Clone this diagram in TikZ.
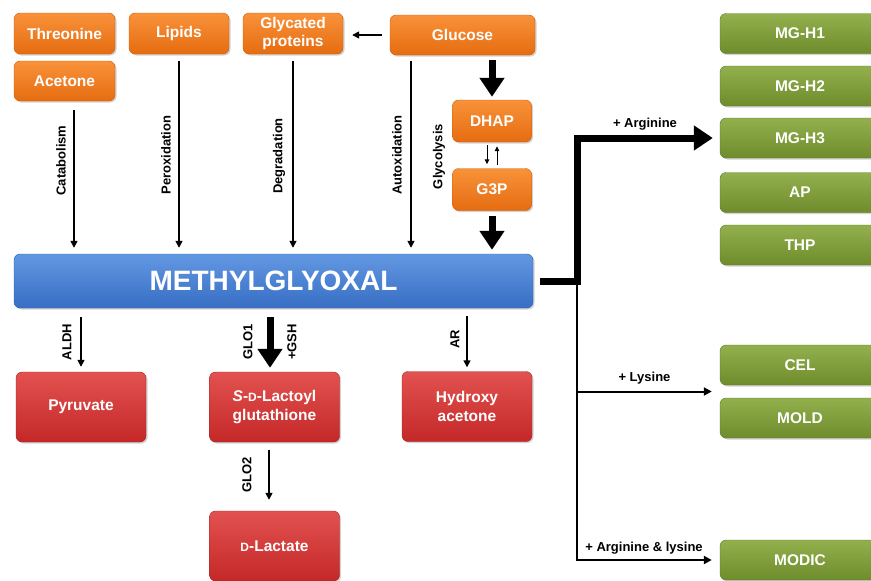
\documentclass[tikz,border=0pt]{standalone}
\usepackage{fontspec}
\setmainfont{Liberation Sans}
\usetikzlibrary{arrows.meta,calc,shadows}
\definecolor{orgT}{RGB}{248,146,58}
\definecolor{orgB}{RGB}{230,108,16}
\definecolor{orgD}{RGB}{205,92,10}
\definecolor{bluT}{RGB}{98,152,226}
\definecolor{bluB}{RGB}{56,110,196}
\definecolor{bluD}{RGB}{48,94,170}
\definecolor{redT}{RGB}{226,82,80}
\definecolor{redB}{RGB}{196,40,40}
\definecolor{redD}{RGB}{168,34,34}
\definecolor{grnT}{RGB}{146,176,76}
\definecolor{grnB}{RGB}{110,140,44}
\definecolor{grnD}{RGB}{94,120,38}

\begin{document}
\begin{tikzpicture}[x=1pt,y=-1pt,
  box/.style={rounded corners=6pt,text=white,align=center,inner sep=0pt,
    font=\fontsize{15.5}{18}\selectfont\bfseries,
    drop shadow={shadow xshift=1.5pt,shadow yshift=-1.5pt,opacity=.35}},
  org/.style={box,draw=orgD,top color=orgT,bottom color=orgB},
  blu/.style={box,draw=bluD,top color=bluT,bottom color=bluB},
  rd/.style={box,draw=redD,top color=redT,bottom color=redB,
    minimum width=130pt,minimum height=70pt,font=\fontsize{15.5}{19}\selectfont\bfseries},
  grn/.style={box,draw=grnD,top color=grnT,bottom color=grnB,minimum width=160pt,minimum height=40pt},
  arr/.style={line width=1.5pt,-{Triangle[length=7pt,width=7pt]}},
  tarr/.style={line width=1pt,-{Triangle[length=5pt,width=4.5pt]}},
  rarr/.style={line width=2pt,-{Triangle[length=8pt,width=8pt]}},
  fat/.style={line width=7pt,-{Triangle[length=19pt,width=24pt]}},
  lbl/.style={inner sep=0pt,rotate=90,font=\fontsize{13}{15}\selectfont\bfseries},
  hlbl/.style={inner sep=0pt,font=\fontsize{13}{15}\selectfont\bfseries}]
\useasboundingbox (0,0) rectangle (871,581);
\clip (0,0) rectangle (871,581);

\node[org,minimum width=101pt,minimum height=41pt] (thr) at (64.5,33.5) {Threonine};
\node[org,minimum width=101pt,minimum height=40pt] (ace) at (64.5,81) {Acetone};
\node[org,minimum width=100pt,minimum height=41pt] (lip) at (179,33.5) {Lipids};
\node[org,minimum width=100pt,minimum height=41pt] (gly) at (293,33.5) {Glycated\\proteins};
\node[org,minimum width=145pt,minimum height=40pt] (glc) at (462.5,35) {Glucose};
\node[org,minimum width=79pt,minimum height=42pt] (dhap) at (492,121) {DHAP};
\node[org,minimum width=79pt,minimum height=42pt] (g3p) at (492,189.5) {G3P};

\node[blu,minimum width=519pt,minimum height=54pt,font=\fontsize{28}{30}\selectfont\bfseries] (mg) at (273.5,281) {METHYLGLYOXAL};

\node[rd] (pyr) at (81,407) {Pyruvate};
\node[rd] (sdl) at (274.5,407) {\textit{S}-{\fontsize{12}{12}\selectfont D}-Lactoyl\\glutathione};
\node[rd] (hyd) at (467,406.5) {Hydroxy\\acetone};
\node[rd] (dlac) at (274.5,546) {{\fontsize{12}{12}\selectfont D}-Lactate};

\node[grn] (mgh1) at (800,33.5) {MG-H1};
\node[grn] (mgh2) at (800,86) {MG-H2};
\node[grn] (mgh3) at (800,138) {MG-H3};
\node[grn] (ap) at (800,192.5) {AP};
\node[grn] (thp) at (800,245) {THP};
\node[grn] (cel) at (800,365) {CEL};
\node[grn] (mold) at (800,418) {MOLD};
\node[grn] (modic) at (800,560) {MODIC};

\draw[arr,shorten <=9pt,shorten >=6pt] (ace.south -| 74,0) -- (mg.north -| 74,0);
\draw[arr,shorten <=7pt,shorten >=6pt] (lip.south) -- (lip.south |- mg.north);
\draw[arr,shorten <=7pt,shorten >=6pt] (gly.south) -- (gly.south |- mg.north);
\draw[arr,shorten <=6pt,shorten >=6pt] (glc.south -| 411,0) -- (mg.north -| 411,0);
\draw[arr,shorten <=8pt,shorten >=9pt] (glc.west) -- (gly.east |- glc.west);
\draw[fat,shorten <=5pt,shorten >=3pt] (glc.south -| dhap.north) -- (dhap.north);
\draw[tarr,shorten <=3pt,shorten >=4pt] ([xshift=-5pt]dhap.south) -- ([xshift=-5pt]g3p.north);
\draw[tarr,shorten <=3pt,shorten >=4pt] ([xshift=5pt]g3p.north) -- ([xshift=5pt]dhap.south);
\draw[fat,shorten <=5pt,shorten >=4pt] (g3p.south) -- (g3p.south |- mg.north);

\draw[arr,shorten <=9pt,shorten >=5pt] (mg.south -| pyr.north) -- (pyr.north);
\draw[fat,shorten <=9pt,shorten >=4pt] (mg.south -| 270,0) -- (sdl.north -| 270,0);
\draw[arr,shorten <=8pt,shorten >=4pt] (mg.south -| hyd.north) -- (hyd.north);
\draw[arr,shorten <=8pt,shorten >=11pt] (sdl.south -| 269,0) -- (dlac.north -| 269,0);

\coordinate (jn) at (577,281);
\draw[rarr,shorten >=8pt] (jn) |- ($(cel.west)!.5!(mold.west)$);
\draw[rarr,shorten >=8pt] (jn) |- (modic.west);
\draw[fat,shorten >=7pt] (mg.east) ++(7,0) -- (jn) |- (mgh3.west);

\node[lbl] (lcat) at (61,160.5) {Catabolism};
\node[lbl] (lper) at (166,155) {Peroxidation};
\node[lbl] (ldeg) at (279,156) {Degradation};
\node[lbl] (laut) at (397,155) {Autoxidation};
\node[lbl] (lgly) at (439,156.5) {Glycolysis};
\node[lbl] (laldh) at (67,342) {ALDH};
\node[lbl] (lglo1) at (248,341.5) {GLO1};
\node[lbl] (lgsh) at (292,342) {+GSH};
\node[lbl] (lar) at (455,339.5) {AR};
\node[lbl] (lglo2) at (247,475) {GLO2};
\node[hlbl] (larg) at (645,124) {+ Arginine};
\node[hlbl] (llys) at (644.5,378) {+ Lysine};
\node[hlbl] (lal) at (644,548) {+ Arginine \& lysine};
\end{tikzpicture}
\end{document}
